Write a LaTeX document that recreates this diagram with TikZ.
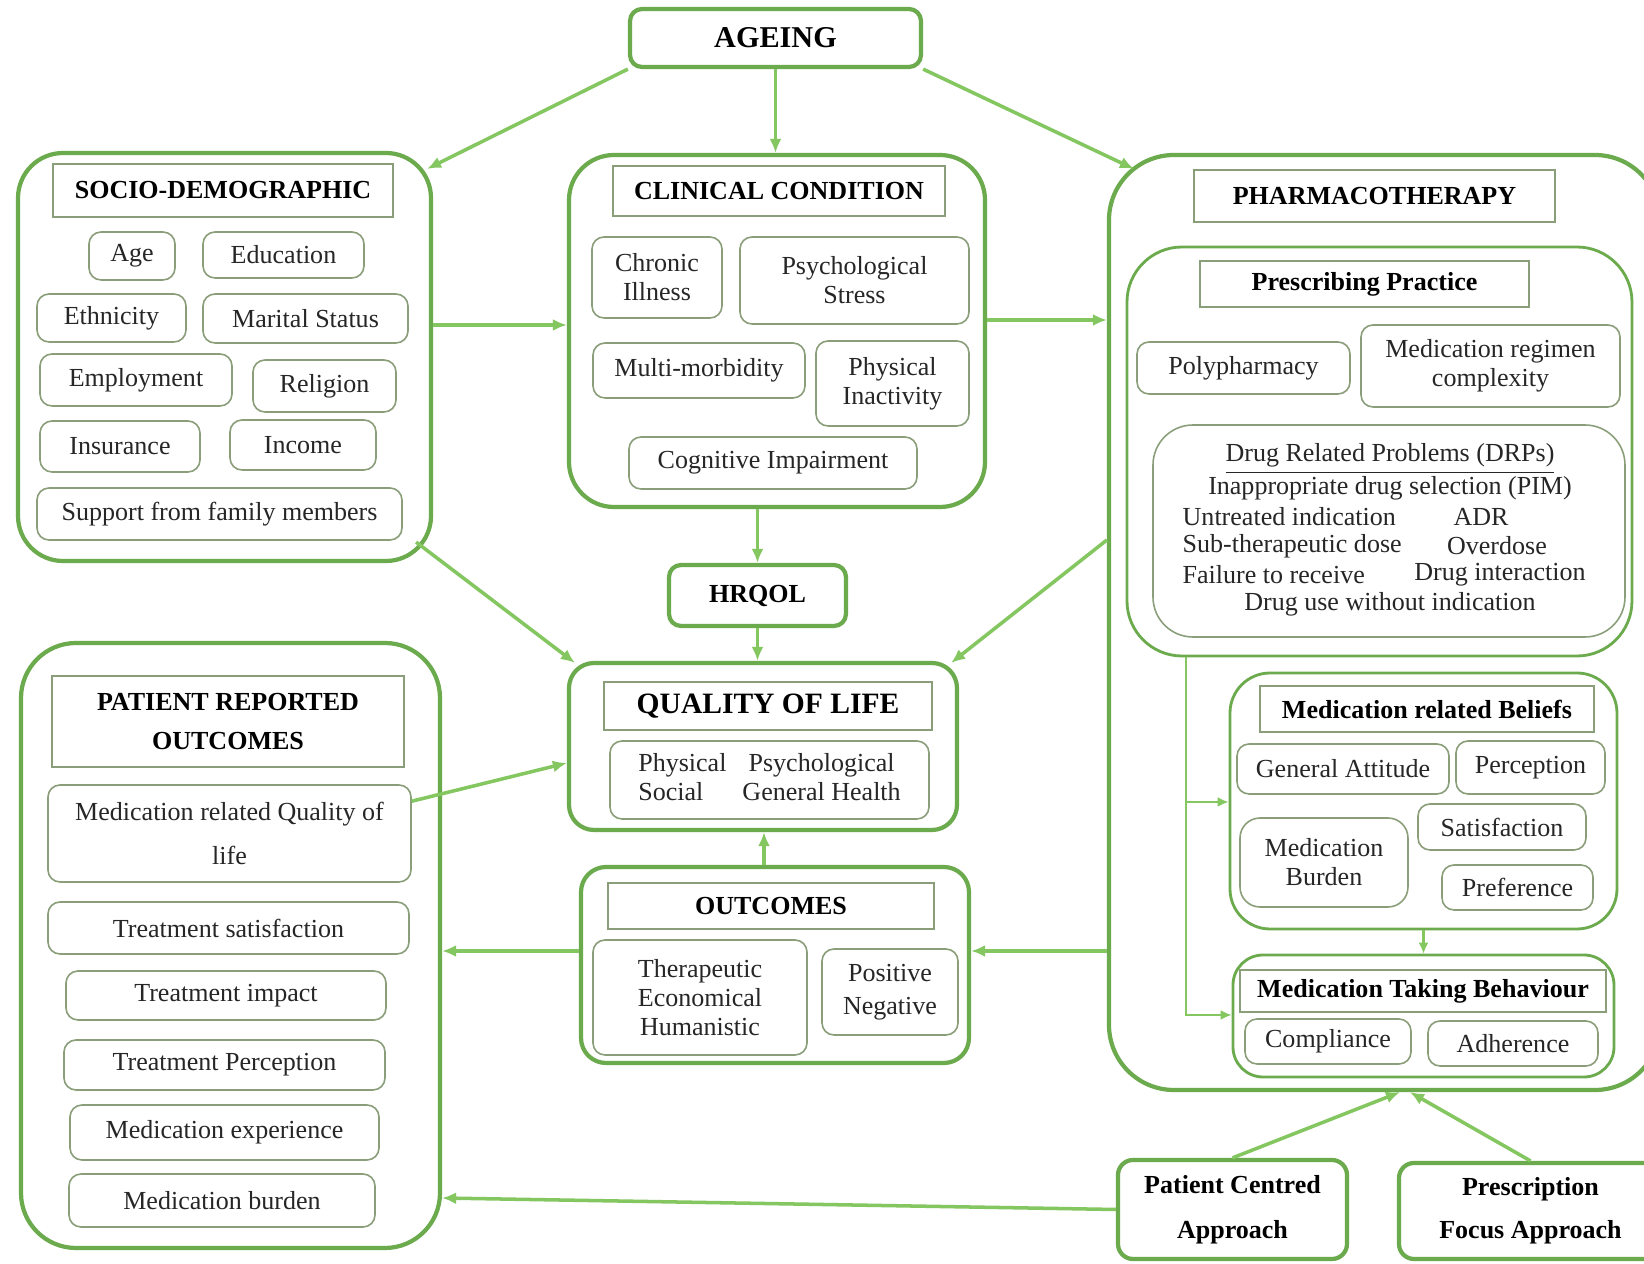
\documentclass[tikz,border=0pt]{standalone}
\usepackage{fontspec}
\setmainfont{Liberation Serif}
\usetikzlibrary{calc,arrows.meta}

\definecolor{boxgreen}{RGB}{108,170,78}
\definecolor{linegreen}{RGB}{132,198,96}
\definecolor{itemgrey}{RGB}{138,158,122}
\definecolor{ink}{RGB}{38,38,38}

\newcommand{\diagfont}{\fontsize{7.4}{8.3}\selectfont}

\tikzset{
  span/.style args={#1,#2,#3,#4}{at={({(#1+#3)/2},{(#2+#4)/2})},
      minimum width={(#3-#1)*0.01cm}, minimum height={(#4-#2)*0.01cm}},
  bigbox/.style={draw=boxgreen, line width=1.2pt, rounded corners=4.5mm, inner sep=0pt},
  midbox/.style={draw=boxgreen, line width=0.8pt, rounded corners=4mm, inner sep=0pt},
  titlebox/.style={draw=boxgreen, line width=1.2pt, rounded corners=1.2mm, inner sep=0pt, align=center, font=\diagfont\bfseries, text=black},
  item/.style={draw=itemgrey, line width=0.45pt, rounded corners=1.2mm, inner sep=0pt, align=center, font=\diagfont, text=ink},
  head/.style={draw=itemgrey, line width=0.5pt, inner sep=0pt, align=center, font=\diagfont\bfseries, text=black},
  plain/.style={inner sep=0pt, font=\diagfont, text=ink},
  arr/.style={draw=linegreen, line width=1pt, -{Latex[length=1.4mm,width=1.2mm]}},
  thinarr/.style={draw=linegreen, line width=0.6pt, -{Latex[length=1.1mm,width=1mm]}},
}

\begin{document}
\begin{tikzpicture}[x=0.01cm, y=-0.01cm]
\clip (0,0) rectangle (1644,1264);
\fill [white] (0,0) rectangle (1644,1264);

% top box
\node [titlebox, span={630,9,921,67}, font=\fontsize{8.6}{10}\selectfont\bfseries] (ageing) {AGEING};

% socio-demographic
\node [bigbox, span={18,153,431,561}] (sd) {};
\node [head, span={53,164,393,217}] (sdhead) {SOCIO-DEMOGRAPHIC};
\node [item, span={89,232,175,280}] (age) {Age};
\node [item, span={203,232,364,278}] (educ) {Education};
\node [item, span={37,294,186,342}] (ethn) {Ethnicity};
\node [item, span={203,294,408,343}] (marit) {Marital Status};
\node [item, span={40,354,232,406}] (employ) {Employment};
\node [item, span={253,360,396,412}] (relig) {Religion};
\node [item, span={40,421,200,472}] (insur) {Insurance};
\node [item, span={230,420,376,470}] (income) {Income};
\node [item, span={37,488,402,540}] (support) {Support from family members};

% clinical condition
\node [bigbox, span={569,155,985,507}] (cc) {};
\node [head, span={613,166,945,216}] (cchead) {CLINICAL CONDITION};
\node [item, span={592,237,722,318}] (chronic) {Chronic\\Illness};
\node [item, span={740,237,969,324}] (stress) {Psychological\\Stress};
\node [item, span={593,343,805,398}] (multi) {Multi-morbidity};
\node [item, span={816,341,969,426}] (inact) {Physical\\Inactivity};
\node [item, span={629,437,917,489}] (cogn) {Cognitive Impairment};

% hrqol and quality of life
\node [titlebox, span={669,565,846,626}] (hrqol) {HRQOL};
\node [bigbox, rounded corners=2.5mm, span={569,663,957,830}] (qol) {};
\node [head, span={604,682,932,730}, font=\fontsize{8.4}{10}\selectfont\bfseries] (qolhead) {QUALITY OF LIFE};
\node [item, span={610,741,929,819}] (domains) {\begin{tabular}{@{}l@{\hspace{1.6mm}}c@{}}Physical & Psychological\\ Social & General Health\end{tabular}};

% outcomes
\node [bigbox, rounded corners=2.5mm, span={581,867,969,1063}] (oc) {};
\node [head, span={608,883,934,929}] (ochead) {OUTCOMES};
\node [item, span={593,940,807,1055}] (thera) {Therapeutic\\Economical\\Humanistic};
\node [item, span={822,949,958,1035}] (posneg) {Positive\\[1pt]Negative};

% patient reported outcomes
\node [bigbox, rounded corners=5.5mm, span={21,643,440,1248}] (pro) {};
\node [head, span={52,676,404,767}] (prohead) {PATIENT REPORTED\\[3pt]OUTCOMES};
\node [item, span={48,785,411,882}] (mqol) {Medication related Quality of\\[4.2pt]life};
\node [item, span={48,902,409,954}] (tsat) {Treatment satisfaction};
\node [item, span={66,971,386,1020}] (timp) {Treatment impact};
\node [item, span={64,1040,385,1090}] (tperc) {Treatment Perception};
\node [item, span={70,1105,379,1160}] (mexp) {Medication experience};
\node [item, span={69,1174,375,1227}] (mburd) {Medication burden};

% pharmacotherapy
\node [bigbox, rounded corners=6.5mm, span={1109,155,1660,1090}] (ph) {};
\node [head, span={1194,170,1555,222}] (phhead) {PHARMACOTHERAPY};

  % prescribing practice
\node [midbox, rounded corners=5.5mm, span={1127,247,1632,656}] (pp) {};
\node [head, span={1200,261,1529,307}] (pphead) {Prescribing Practice};
\node [item, span={1137,342,1350,394}] (poly) {Polypharmacy};
\node [item, span={1361,325,1620,407}] (regimen) {Medication regimen\\complexity};
\node [item, rounded corners=4mm, span={1153,425,1625,637}] (drp) {};
\node [plain] (drptitle) at (1390,459) {\underline{Drug Related Problems (DRPs)}};
\node [plain] (pim) at (1390,488) {Inappropriate drug selection (PIM)};
\node [plain, anchor=west] (untreat) at (1182,517) {Untreated indication};
\node [plain] (adr) at (1481,517) {ADR};
\node [plain, anchor=west] (subdose) at (1182,546) {Sub-therapeutic dose};
\node [plain] (overdose) at (1497,546) {Overdose};
\node [plain, anchor=west] (failure) at (1182,575) {Failure to receive};
\node [plain] (interact) at (1500,575) {Drug interaction};
\node [plain] (noind) at (1390,604) {Drug use without indication};

  % beliefs
\node [midbox, span={1230,673,1617,929}] (mrb) {};
\node [head, span={1260,686,1594,732}] (mrbhead) {Medication related Beliefs};
\node [item, span={1237,744,1449,794}] (attit) {General Attitude};
\node [item, span={1456,741,1605,794}] (percep) {Perception};
\node [item, rounded corners=2mm, span={1240,818,1408,907}] (burden) {Medication\\Burden};
\node [item, span={1418,804,1586,850}] (satisf) {Satisfaction};
\node [item, span={1442,865,1593,910}] (prefer) {Preference};

  % taking behaviour
\node [midbox, rounded corners=3mm, span={1233,955,1614,1077}] (mtb) {};
\node [head, span={1240,970,1606,1012}] (mtbhead) {Medication Taking Behaviour};
\node [item, span={1245,1019,1411,1064}] (compl) {Compliance};
\node [item, span={1428,1021,1598,1066}] (adher) {Adherence};

% approaches
\node [titlebox, rounded corners=1.5mm, span={1118,1160,1347,1259}] (pca) {Patient Centred\\[4.5pt]Approach};
\node [titlebox, rounded corners=1.5mm, span={1399,1163,1662,1259}] (pfa) {Prescription\\[4pt]Focus Approach};

% arrows
\coordinate (ocup) at ($(oc.north)+(-11,0)$);
\draw [arr] (ageing.south west) -- ($(sd.north east)+(-6,18)$);
\draw [arr] (ageing.south) -- (ageing.south |- cc.north);
\draw [arr] (ageing.south east) -- ($(ph.north west)+(27,16)$);
\draw [arr] (sd.east |- 0,325) -- (cc.west |- 0,325);
\draw [arr] (cc.east |- 0,320) -- (ph.west |- 0,320);
\draw [arr] (hrqol.north |- cc.south) -- (hrqol.north);
\draw [arr] (hrqol.south) -- (hrqol.south |- qol.north);
\draw [arr] ($(sd.south east)+(-17,-21)$) -- ($(qol.north west)+(8,2)$);
\draw [arr] (ph.west |- 0,540) -- ($(qol.north east)+(-8,2)$);
\draw [arr] (ocup) -- (ocup |- qol.south);
\draw [arr] ($(mqol.north east)+(0,17)$) -- (qol.west |- 0,763);
\draw [arr] (oc.west |- 0,951) -- (pro.east |- 0,951);
\draw [arr] (ph.west |- 0,951) -- (oc.east |- 0,951);
\draw [arr] (pca.west) -- (pro.east |- 0,1198);
\draw [arr] (pca.north) -- (ph.south -| 1400,0);
\draw [arr] (pfa.north) -- (ph.south -| 1410,0);

  % inside pharmacotherapy
\coordinate (split) at (1186,802);
\draw [thinarr] (pp.south -| split) |- (mtb.west |- 0,1015);
\draw [thinarr] (split) -- (mrb.west |- split);
\draw [thinarr] (mrb.south) -- (mrb.south |- mtb.north);

\end{tikzpicture}
\end{document}
